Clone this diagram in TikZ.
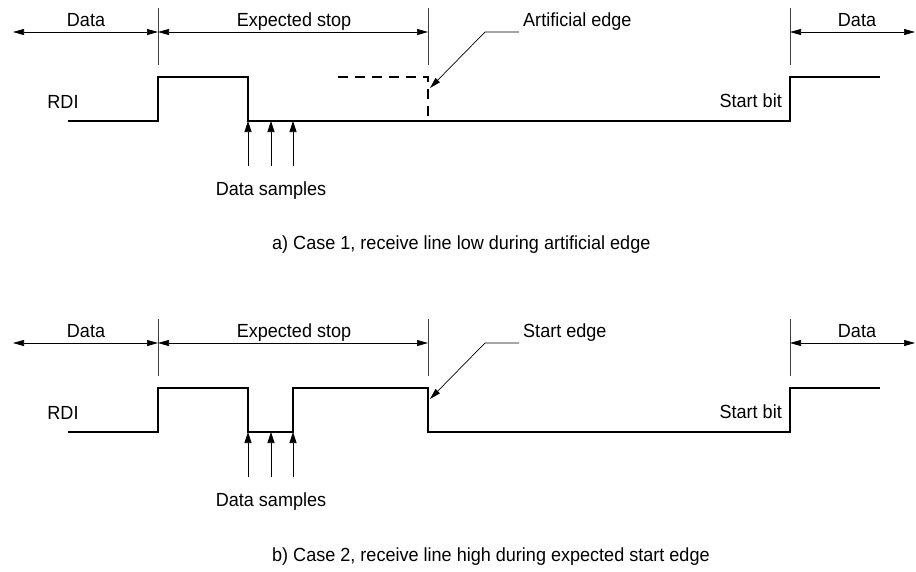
\documentclass[tikz,border=0pt]{standalone}
\usepackage{fontspec}
\setmainfont{Liberation Sans}[FakeStretch=0.95]
\usetikzlibrary{arrows.meta}

\tikzset{
  dimline/.style={line width=0.7pt, {Triangle[length=11pt,width=6pt]}-{Triangle[length=11pt,width=6pt]}},
  tickline/.style={line width=0.7pt, black!75},
  wave/.style={line width=1.5pt},
  sample/.style={line width=0.7pt, -{Triangle[length=11pt,width=7pt]}},
  leader/.style={line width=0.7pt, -{Triangle[length=11pt,width=6pt]}},
  lbl/.style={font=\fontsize{19}{22}\selectfont, inner sep=0pt, anchor=base},
}

\begin{document}
\begin{tikzpicture}[x=1pt,y=-1pt]
\useasboundingbox (0,0) rectangle (916,571);
% parts shared by both cases
\foreach \p/\oy in {a/0,b/311} {
  \begin{scope}[yshift=-\oy pt]
    \coordinate (\p-l) at (13,32);
    \coordinate (\p-r) at (915,32);
    \foreach \x/\n in {158/1,428/2,790/3} {
      \coordinate (\p-t\n) at (\x,32);
      \draw[tickline] (\x,8) -- (\x,65);
    }
    \draw[dimline] (\p-l) -- (\p-t1);
    \draw[dimline] (\p-t1) -- (\p-t2);
    \draw[dimline] (\p-t3) -- (\p-r);
    \node[lbl] (\p-data1) at (86,26) {Data};
    \node[lbl] (\p-stop) at (294,26) {Expected stop};
    \node[lbl] (\p-data2) at (857,26) {Data};
    \node[lbl] (\p-rdi) at (63,108) {RDI};
    \node[lbl, anchor=base east] (\p-sbit) at (782,107) {Start bit};
    % data samples
    \foreach \x in {248,271,293} \draw[sample] (\x,166) -- (\x,121);
    \node[lbl] (\p-samples) at (271,195) {Data samples};
    % pointer to the edge
    \coordinate (\p-bend) at (485,32);
    \coordinate (\p-tip) at (430,88);
  \end{scope}
}
% a) case 1
\draw[wave] (68,121) -| (158,77) -| (248,121) -| (790,77) -- (880,77);
\draw[wave, dash pattern=on 10pt off 7pt] (338,77) -| (428,121);
\node[lbl, anchor=base west, inner xsep=4pt] (a-edge) at (519,26) {Artificial edge};
\draw[leader] (a-edge.west |- a-bend) -- (a-bend) -- (a-tip);
\node[lbl, anchor=base west] (a-cap) at (272,249) {a) Case 1, receive line low during artificial edge};
% b) case 2
\begin{scope}[yshift=-311pt]
  \draw[wave] (68,121) -| (158,77) -| (248,121) -| (293,77) -| (428,121) -| (790,77) -- (880,77);
\end{scope}
\node[lbl, anchor=base west, inner xsep=4pt] (b-edge) at (519,337) {Start edge};
\draw[leader] (b-edge.west |- b-bend) -- (b-bend) -- (b-tip);
\node[lbl, anchor=base west] (b-cap) at (272,561) {b) Case 2, receive line high during expected start edge};
\end{tikzpicture}
\end{document}
